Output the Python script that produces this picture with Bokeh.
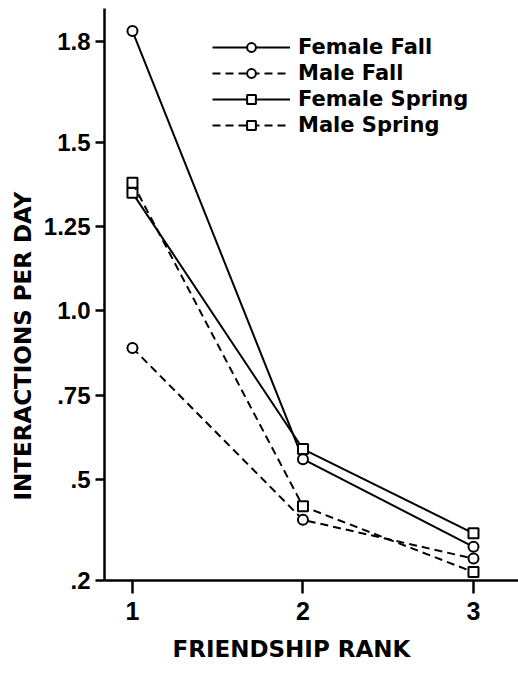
import math
from bokeh.plotting import figure
from bokeh.models import Range1d, FixedTicker, Legend, LegendItem, Title
from bokeh.embed import file_html
from bokeh.resources import INLINE

# ---- data ----
rank = [1, 2, 3]
female_fall = [1.83, 0.56, 0.30]
male_fall = [0.89, 0.38, 0.265]
female_spring = [1.35, 0.59, 0.34]
male_spring = [1.38, 0.42, 0.225]
series_names = ["Female Fall", "Male Fall", "Female Spring", "Male Spring"]
y_ticks = [0.2, 0.5, 0.75, 1.0, 1.25, 1.5, 1.8]
y_tick_labels = [".2", ".5", ".75", "1.0", "1.25", "1.5", "1.8"]
x_ticks = [1, 2, 3]
x_tick_labels = ["1", "2", "3"]
x_title = "FRIENDSHIP RANK"
y_title = "INTERACTIONS PER DAY"

TICK_FONT = "Liberation Sans"
LABEL_FONT = "DejaVu Sans"

p = figure(width=518, height=675, output_backend="svg", toolbar_location=None,
           x_range=Range1d(0.836, 3.264), y_range=Range1d(0.2, 1.897),
           min_border_left=104, min_border_right=0, min_border_top=8,
           min_border_bottom=95)
p.outline_line_color = None
p.xgrid.visible = False
p.ygrid.visible = False
p.background_fill_color = "white"
p.border_fill_color = "white"

series = [
    (female_fall, "circle", "solid"),
    (male_fall, "circle", "dashed"),
    (female_spring, "square", "solid"),
    (male_spring, "square", "dashed"),
]
items = []
for (vals, mk, dash), name in zip(series, series_names):
    ld = "solid" if dash == "solid" else "8 5"
    lr = p.line(rank, vals, line_color="black", line_width=2, line_dash=ld)
    sr = p.scatter(rank, vals, marker=mk, size=10, fill_color="white",
                   line_color="black", line_width=2)
    items.append(LegendItem(label=name, renderers=[lr, sr]))

legend = Legend(items=items, location=(108, 443), glyph_width=78,
                glyph_height=22, label_height=25, spacing=1, padding=0,
                margin=0, label_standoff=8,
                label_text_font=LABEL_FONT, label_text_font_size="21px",
                label_text_font_style="bold",
                label_text_color="black",
                border_line_alpha=0, background_fill_alpha=0)
p.add_layout(legend, "center")

# axes styling
for ax in (p.xaxis[0], p.yaxis[0]):
    ax.axis_line_width = 2.5
    ax.axis_line_color = "black"
    ax.major_tick_line_width = 2.5
    ax.major_tick_line_color = "black"
    ax.minor_tick_line_color = None
    ax.major_tick_in = 0
    ax.major_label_text_font = TICK_FONT
    ax.major_label_text_font_style = "bold"
    ax.major_label_text_color = "black"

p.yaxis.ticker = FixedTicker(ticks=y_ticks)
p.yaxis.major_label_overrides = {t: l for t, l in zip(y_ticks, y_tick_labels)}
p.yaxis.major_tick_out = 9
p.yaxis.major_label_standoff = 5
p.yaxis.major_label_text_font_size = "24px"

p.xaxis.ticker = FixedTicker(ticks=x_ticks)
p.xaxis.major_label_overrides = {t: l for t, l in zip(x_ticks, x_tick_labels)}
p.xaxis.major_tick_out = 13
p.xaxis.major_label_standoff = 8
p.xaxis.major_label_text_font_size = "25px"

xtitle = Title(text=x_title, align="left", offset=68, standoff=22,
               text_font=LABEL_FONT, text_font_size="23px",
               text_font_style="bold", text_color="black")
p.add_layout(xtitle, "below")

ytitle = Title(text=y_title, align="left", offset=80,
               text_font=LABEL_FONT, text_font_size="23px",
               text_font_style="bold", text_color="black")
p.add_layout(ytitle, "left")

open("out.html", "w").write(file_html(p, INLINE))
